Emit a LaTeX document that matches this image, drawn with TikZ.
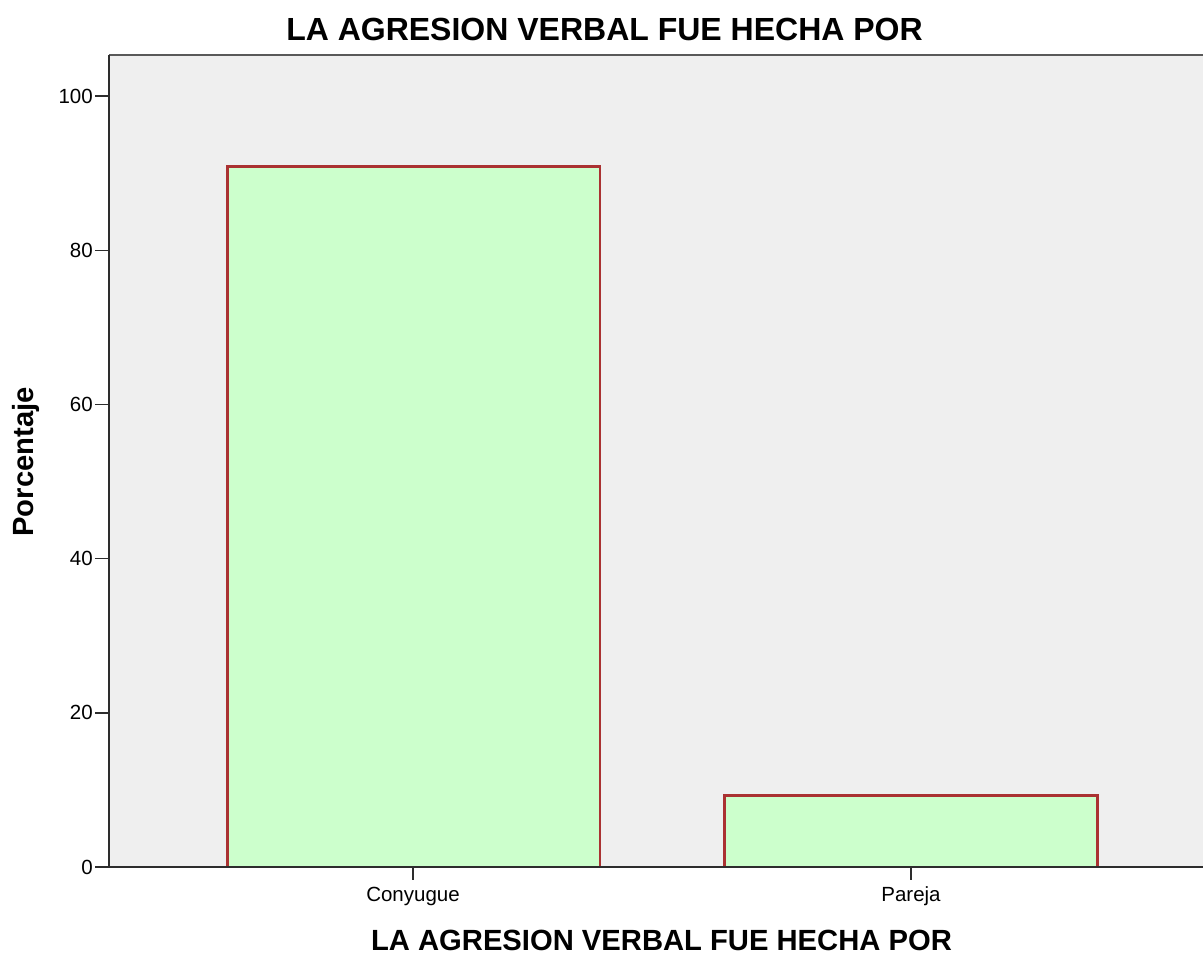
\documentclass[tikz,border=0pt]{standalone}
\usepackage{fontspec}
\setmainfont{Liberation Sans}
\definecolor{plotbg}{RGB}{239,239,239}
\definecolor{barfill}{RGB}{204,255,204}
\definecolor{baredge}{RGB}{170,50,50}
\definecolor{axiscol}{RGB}{45,45,45}
\begin{document}
\begin{tikzpicture}[x=1pt,y=-1pt,
  ticklab/.style={inner sep=0pt,anchor=east,font=\fontsize{20.5}{24}\selectfont},
  catlab/.style={inner sep=0pt,anchor=base,font=\fontsize{20.5}{24}\selectfont},
  bigtitle/.style={inner sep=0pt,anchor=base,font=\bfseries\fontsize{32}{38}\selectfont},
  axtitle/.style={inner sep=0pt,anchor=base,font=\bfseries\fontsize{29.2}{35}\selectfont},
  bar/.style={fill=barfill,draw=baredge,line width=2.2pt},
  axisline/.style={draw=axiscol,line width=1.6pt},
  tickline/.style={draw=axiscol,line width=1.4pt}]
\useasboundingbox (0,0) rectangle (1203,954);
\fill[white] (0,0) rectangle (1203,954);
% plot area
\fill[plotbg] (109,54.5) rectangle (1203,867);
\draw[draw=black!65,line width=2pt] (109,54.5) -- (1203,54.5);
% bars
\coordinate (b1bl) at (227.5,867);
\coordinate (b1tr) at (600,166.5);
\coordinate (b2bl) at (724.5,867);
\coordinate (b2tr) at (1097.5,795.5);
\draw[bar] (b1bl) rectangle (b1tr);
\draw[bar] (b2bl) rectangle (b2tr);
% axes
\coordinate (ytop) at (109,54.5);
\coordinate (orig) at (109,867);
\coordinate (xend) at (1203,867);
\draw[axisline] (ytop) -- (orig) -- (xend);
% y ticks
\foreach \v/\n in {0/t0,20/t20,40/t40,60/t60,80/t80,100/t100}{
  \coordinate (\n) at (109,{867-7.71*\v});
  \draw[tickline] (\n) -- ++(-14,0);
  \node[ticklab] (\n lab) at ([xshift=-16pt]\n) {\v};
}
% x ticks
\coordinate (c1) at (413,867);
\coordinate (c2) at (911,867);
\draw[tickline] (c1) -- ++(0,13);
\draw[tickline] (c2) -- ++(0,13);
\node[catlab] (conylab) at (413,901) {Conyugue};
\node[catlab] (parlab) at (911,901) {Pareja};
% titles
\node[bigtitle] (title) at (604.5,40.5) {LA AGRESION VERBAL FUE HECHA POR};
\node[axtitle] (xtitle) at (661.5,950) {LA AGRESION VERBAL FUE HECHA POR};
\node[axtitle,rotate=90] (ytitle) at (34,462) {Porcentaje};
\end{tikzpicture}
\end{document}
